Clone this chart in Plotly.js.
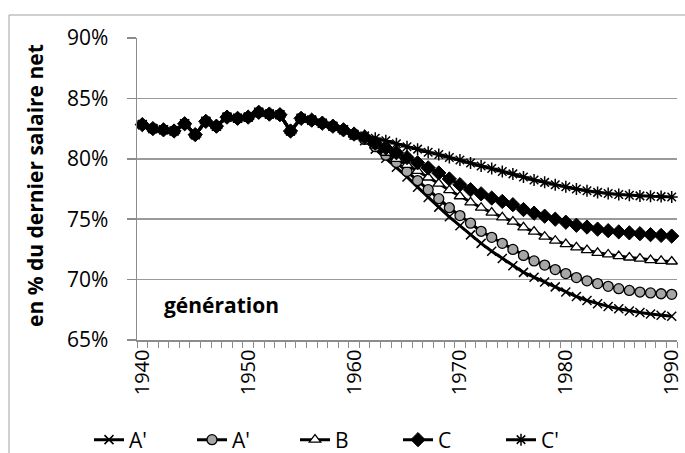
<!DOCTYPE html>
<html>
<head>
<meta charset="utf-8">
<script src="https://cdn.plot.ly/plotly-3.0.1.min.js"></script>
<style>
html,body{margin:0;padding:0;background:#fff;}
#chart{width:685px;height:453px;}
</style>
</head>
<body>
<div id="chart"></div>
<script>
// Years (categories)
const years = [1940,1941,1942,1943,1944,1945,1946,1947,1948,1949,
  1950,1951,1952,1953,1954,1955,1956,1957,1958,1959,
  1960,1961,1962,1963,1964,1965,1966,1967,1968,1969,
  1970,1971,1972,1973,1974,1975,1976,1977,1978,1979,
  1980,1981,1982,1983,1984,1985,1986,1987,1988,1989,1990];

// Shared values 1940-1959 (all generations identical)
const commonPre = [82.83,82.5,82.4,82.3,82.9,82.0,83.1,82.7,83.45,83.35,
  83.45,83.85,83.7,83.65,82.3,83.35,83.2,82.95,82.7,82.4];

// Values 1960-1990 per scenario
const aXLate = [81.95,81.5,80.8,80.05,79.3,78.5,77.65,76.8,76.0,75.2,
  74.45,73.7,73.0,72.35,71.75,71.15,70.6,70.2,69.8,69.4,
  68.97,68.6,68.27,68.0,67.78,67.58,67.4,67.27,67.15,67.05,66.97];
const aCircLate = [82.0,81.6,81.0,80.3,79.7,78.95,78.2,77.45,76.7,75.95,
  75.3,74.67,74.0,73.5,73.0,72.5,72.0,71.55,71.2,70.83,
  70.5,70.17,69.9,69.67,69.44,69.25,69.1,68.97,68.9,68.83,68.78];
const bLate = [82.0,81.7,81.1,80.5,80.0,79.5,79.0,78.45,77.95,77.4,
  76.9,76.4,75.95,75.55,75.15,74.8,74.33,73.97,73.55,73.22,
  72.94,72.67,72.44,72.22,72.08,71.94,71.83,71.74,71.62,71.55,71.5];
const cLate = [82.05,81.8,81.3,80.9,80.5,80.1,79.67,79.25,78.83,78.33,
  77.86,77.44,77.1,76.75,76.47,76.2,75.8,75.5,75.25,75.0,
  74.75,74.5,74.35,74.18,74.05,73.95,73.87,73.8,73.72,73.66,73.6];
const cpLate = [82.05,81.9,81.7,81.5,81.25,81.0,80.8,80.55,80.35,80.1,
  79.9,79.65,79.4,79.2,78.95,78.75,78.5,78.25,78.05,77.85,
  77.68,77.5,77.35,77.22,77.12,77.05,76.98,76.93,76.9,76.87,76.83];

const seriesNames = ["A'", "A'", "B", "C", "C'"];
const xTickVals = [1940,1950,1960,1970,1980,1990];
const yTickVals = [65,70,75,80,85,90];
const yGridVals = [70,75,80,85];

const FONT = "Open Sans, Noto Sans, sans-serif";
const FS = 21;
const LW = 3;

function tr(name, late, marker) {
  return {
    x: years, y: commonPre.concat(late), name: name,
    type: 'scatter', mode: 'lines+markers',
    line: {color: '#000', width: LW},
    marker: marker,
    cliponaxis: false
  };
}

const data = [
  {x:[1940], y:[null], yaxis:'y2', type:'scatter', mode:'lines', showlegend:false, hoverinfo:'skip'},
  tr(seriesNames[0], aXLate, {symbol:'x-thin-open', size:9, color:'#000', line:{color:'#000', width:1.5}}),
  tr(seriesNames[1], aCircLate, {symbol:'circle', size:10, color:'#A6A6A6', line:{color:'#000', width:1.3}}),
  tr(seriesNames[2], bLate, {symbol:'triangle-up', size:10, color:'#fff', line:{color:'#000', width:1.3}}),
  tr(seriesNames[3], cLate, {symbol:'diamond', size:11, color:'#000', line:{color:'#000', width:1}}),
  tr(seriesNames[4], cpLate, {symbol:'asterisk-open', size:10, color:'#000', line:{color:'#000', width:1.5}})
];

const W = 540, H = 302, L = 137, T = 38;
function px(xp){ return (xp - L)/W; }
function py(yp){ return (T + H - yp)/H; }

const layout = {
  width: 685, height: 453,
  margin: {l: L, r: 685-L-W, t: T, b: 453-T-H, autoexpand: false},
  paper_bgcolor: '#fff', plot_bgcolor: '#fff',
  font: {family: FONT, size: FS, color: '#000'},
  showlegend: true,
  xaxis: {
    type: 'linear', range: [1939.5, 1990.5],
    tickvals: xTickVals, ticktext: xTickVals.map(String),
    tickangle: -90, ticks: '', showgrid: false, zeroline: false,
    ticklabeloverflow: 'allow',
    showline: true, linecolor: '#8c8c8c', linewidth: 1.5,
    tickfont: {family: FONT, size: 20, color: '#000'},
    minor: {ticks: 'outside', ticklen: 6, tickcolor: '#8c8c8c', tickwidth: 1, tick0: 1939.5, dtick: 1, showgrid: false}
  },
  yaxis: {
    range: [65, 90], tickvals: yTickVals, ticktext: yTickVals.map(v => v + '%'),
    ticks: 'outside', ticklen: 9, tickcolor: '#8c8c8c', tickwidth: 1.5,
    ticklabelstandoff: 14, ticklabeloverflow: 'allow',
    showgrid: false, zeroline: false,
    showline: true, linecolor: '#8c8c8c', linewidth: 1.5,
    tickfont: {family: FONT, size: FS, color: '#000'}
  },
  yaxis2: {
    range: [65, 90], overlaying: 'y', side: 'left',
    tickvals: yGridVals, showticklabels: false, ticks: '',
    showgrid: true, gridcolor: '#9a9a9a', gridwidth: 1.5,
    zeroline: false, showline: false
  },
  legend: {
    orientation: 'h', x: px(89), xanchor: 'left', y: py(440), yanchor: 'middle',
    entrywidth: 58, entrywidthmode: 'pixels',
    font: {family: FONT, size: FS, color: '#000'},
    bgcolor: 'rgba(0,0,0,0)', tracegroupgap: 0, itemclick: false
  },
  annotations: [
    {xref:'paper', yref:'paper', x: px(221), y: py(305), text: '<b>génération</b>',
     showarrow:false, xanchor:'center', yanchor:'middle',
     font:{family: FONT, size: 21, color:'#000'}},
    {xref:'paper', yref:'paper', x: px(35), y: py(186), text: '<b>en % du dernier salaire net</b>',
     textangle: -90, showarrow:false, xanchor:'center', yanchor:'middle',
     font:{family: FONT, size: 21, color:'#000'}}
  ],
  shapes: [
    {type:'rect', xref:'paper', yref:'paper', x0: px(9), x1: px(700), y0: py(470), y1: py(15),
     line:{color:'#a0a0a0', width:1}, fillcolor:'rgba(0,0,0,0)', layer:'below'}
  ]
};

Plotly.newPlot('chart', data, layout, {staticPlot: true, displayModeBar: false});
</script>
</body>
</html>
